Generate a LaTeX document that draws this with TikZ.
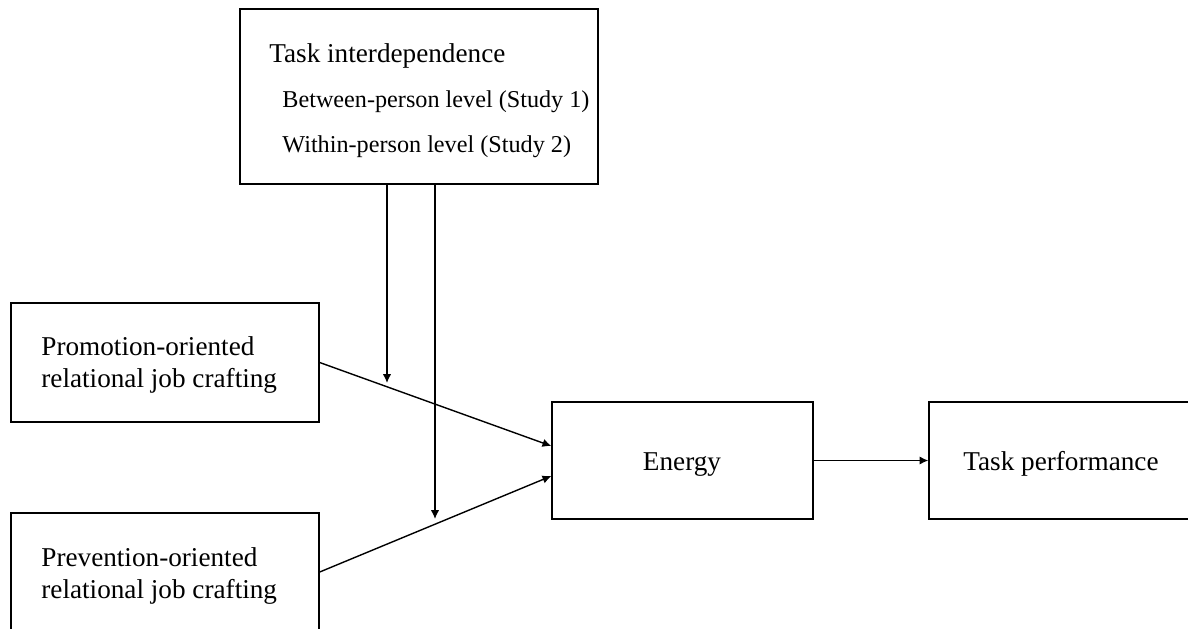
\documentclass[tikz,border=0pt]{standalone}
\usepackage{fontspec}
\setmainfont{Liberation Serif}
\usetikzlibrary{arrows.meta,calc}
\begin{document}
\begin{tikzpicture}[x=0.5pt,y=-0.5pt,
  boxnode/.style={draw, line width=0.7pt, rectangle, inner sep=0pt},
  lbl/.style={anchor=base west, inner sep=0pt, font=\fontsize{13.6}{16}\selectfont},
  sublbl/.style={anchor=base west, inner sep=0pt, font=\fontsize{12.1}{14}\selectfont},
  arr/.style={line width=0.7pt, -{Latex[length=4.4pt,width=4.2pt]}}]
\useasboundingbox (0,0) rectangle (1188,628);
\clip (0,0) rectangle (1188,628);
% boxes
\node[boxnode, minimum width=179pt, minimum height=87.5pt] (mod) at (419,96.5) {};
\node[boxnode, minimum width=154pt, minimum height=59.5pt] (promo) at (165,362.5) {};
\node[boxnode, minimum width=154pt, minimum height=59pt] (prev) at (165,572) {};
\node[boxnode, minimum width=130.5pt, minimum height=58.5pt] (energy) at (682.5,460.5) {};
\node[boxnode, minimum width=140pt, minimum height=58.5pt] (task) at (1069,460.5) {};
% texts
\node[lbl] (t1) at (269,62) {Task interdependence};
\node[sublbl] (t2) at (282,107) {Between-person level (Study 1)};
\node[sublbl] (t3) at (282,152) {Within-person level (Study 2)};
\node[lbl] (p1) at (41,355) {Promotion-oriented};
\node[lbl] (p2) at (41,387) {relational job crafting};
\node[lbl] (q1) at (41,566) {Prevention-oriented};
\node[lbl] (q2) at (41,598) {relational job crafting};
\node[lbl, anchor=base] (e1) at (682,470) {Energy};
\node[lbl] (tp) at (963,470) {Task performance};
% moderator arrows
\coordinate (m1) at (387,383);
\coordinate (m2) at (435,519);
\draw[arr] (mod.south -| m1) -- (m1);
\draw[arr] (mod.south -| m2) -- (m2);
% main arrows
\draw[arr] (promo.east) -- ($(energy.west)+(0,-14.5)$);
\draw[arr] (prev.east) -- ($(energy.west)+(0,15.5)$);
\draw[arr] (energy.east) -- (task.west);
\end{tikzpicture}
\end{document}
